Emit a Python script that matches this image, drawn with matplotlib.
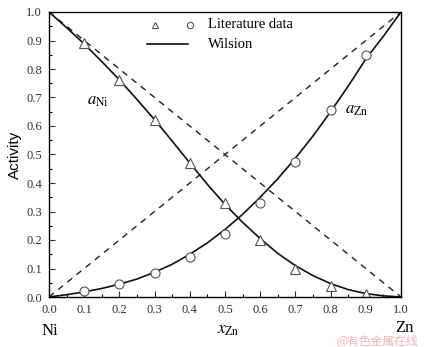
import matplotlib
matplotlib.use("Agg")
import matplotlib.pyplot as plt
from matplotlib.ticker import MultipleLocator

# Literature activity data
x_data = [0.1, 0.2, 0.3, 0.4, 0.5, 0.6, 0.7, 0.8, 0.9]
a_ni_data = [0.89, 0.76, 0.62, 0.47, 0.33, 0.20, 0.10, 0.04, 0.01]
a_zn_data = [0.02, 0.045, 0.085, 0.14, 0.22, 0.33, 0.475, 0.655, 0.85]

# Wilson model curves
x_model = [0.00, 0.05, 0.10, 0.15, 0.20, 0.25, 0.30, 0.35, 0.40, 0.45, 0.50,
           0.55, 0.60, 0.65, 0.70, 0.75, 0.80, 0.85, 0.90, 0.95, 1.00]
a_ni_model = [1.000, 0.945, 0.888, 0.826, 0.762, 0.693, 0.622, 0.547, 0.470, 0.395, 0.325,
              0.262, 0.205, 0.153, 0.110, 0.075, 0.047, 0.026, 0.012, 0.004, 0.000]
a_zn_model = [0.000, 0.008, 0.018, 0.030, 0.045, 0.063, 0.087, 0.115, 0.150, 0.190, 0.237,
              0.290, 0.350, 0.415, 0.487, 0.565, 0.650, 0.740, 0.835, 0.915, 1.000]

# Raoult's law (ideal) lines
x_ideal = [0.0, 1.0]
a_ni_ideal = [1.0, 0.0]
a_zn_ideal = [0.0, 1.0]

serif = "Liberation Serif"

fig = plt.figure(figsize=(4.25, 3.47), dpi=100)
ax = fig.add_axes([49 / 425, 1 - 297 / 347, 352 / 425, 285 / 347])

ax.plot(x_ideal, a_ni_ideal, ls=(0, (4.5, 4)), color="#222222", lw=1.0)
ax.plot(x_ideal, a_zn_ideal, ls=(0, (4.5, 4)), color="#222222", lw=1.0)

ax.plot(x_model, a_ni_model, color="#111111", lw=1.2)
ax.plot(x_model, a_zn_model, color="#111111", lw=1.2)

ax.plot(x_data, a_ni_data, ls="none", marker="^", ms=7, mfc="white",
        mec="#555555", mew=0.8)
ax.plot(x_data, a_zn_data, ls="none", marker="o", ms=6.5, mfc="white",
        mec="#555555", mew=0.8)

ax.set_xlim(0, 1)
ax.set_ylim(0, 1)
ax.xaxis.set_major_locator(MultipleLocator(0.1))
ax.xaxis.set_minor_locator(MultipleLocator(0.05))
ax.yaxis.set_major_locator(MultipleLocator(0.1))
ax.yaxis.set_minor_locator(MultipleLocator(0.05))
ax.tick_params(which="major", direction="in", length=4, width=0.8,
               labelsize=9, colors="#333333", pad=5)
ax.tick_params(which="minor", direction="in", length=2, width=0.8)
ax.set_xticklabels([f"{v:.1f}" for v in ax.get_xticks()], family=serif)
ax.set_yticklabels([f"{v:.1f}" for v in ax.get_yticks()], family=serif)
for s in ax.spines.values():
    s.set_linewidth(1.0)

ax.set_ylabel("Activity", family="Liberation Sans", fontsize=11, labelpad=3)
fig.text(228 / 425, 1 - 330 / 347, r"$\mathit{x}_{\mathrm{Zn}}$", ha="center",
         va="center", fontsize=12, family=serif, math_fontfamily="stix")
fig.text(50 / 425, 1 - 331 / 347, "Ni", ha="center", va="center", fontsize=12, family=serif)
fig.text(404 / 425, 1 - 328 / 347, "Zn", ha="center", va="center", fontsize=12, family=serif)

ax.text(0.14, 0.69, r"$\mathit{a}_{\mathrm{Ni}}$", fontsize=12, math_fontfamily="stix",
        ha="center", va="center")
ax.text(0.875, 0.66, r"$\mathit{a}_{\mathrm{Zn}}$", fontsize=12, math_fontfamily="stix",
        ha="center", va="center")

# Legend drawn by hand in axes coordinates
ax.plot([0.30], [0.955], transform=ax.transAxes, marker="^", ms=5, mfc="white",
        mec="#555555", mew=0.8, ls="none", clip_on=False)
ax.plot([0.40], [0.955], transform=ax.transAxes, marker="o", ms=4.5, mfc="white",
        mec="#555555", mew=0.8, ls="none", clip_on=False)
ax.text(0.452, 0.955, "Literature data", transform=ax.transAxes, fontsize=10.5,
        family=serif, va="center", ha="left")
ax.plot([0.278, 0.395], [0.887, 0.887], transform=ax.transAxes, color="#111111", lw=1.2)
ax.text(0.452, 0.887, "Wilsion", transform=ax.transAxes, fontsize=10.5,
        family=serif, va="center", ha="left")

fig.text(418 / 425, 1 - 341 / 347, "@有色金属在线", ha="right", va="center", fontsize=8.5,
         color="#f2b3b3", family=["Noto Sans CJK SC", "DejaVu Sans"])

fig.savefig("out.png", dpi=100)
